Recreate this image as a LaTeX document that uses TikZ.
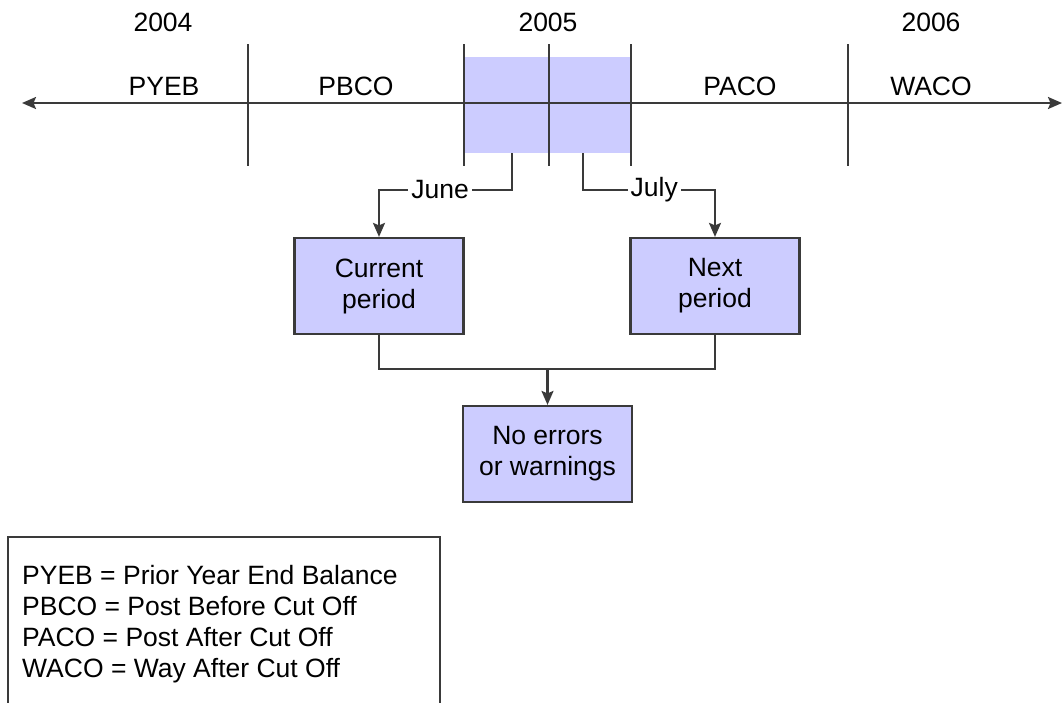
\documentclass[tikz,border=0pt]{standalone}
\usepackage{fontspec}
\setmainfont{Liberation Sans}
\usetikzlibrary{arrows.meta}
\definecolor{linegray}{HTML}{3A3A3A}
\definecolor{periodfill}{HTML}{CCCCFF}
\begin{document}
\begin{tikzpicture}[x=1pt,y=-1pt,
  every node/.style={font=\fontsize{26.5}{31}\selectfont},
  rule/.style={draw=linegray,line width=2.2pt},
  tip/.style={-{Stealth[length=14pt,width=12pt,inset=2.5pt]}},
  lbl/.style={inner sep=0pt,anchor=base},
  onwire/.style={fill=white,inner xsep=3pt,inner ysep=2pt},
  pbox/.style={draw=linegray,line width=2.2pt,fill=periodfill,minimum width=169pt,
    minimum height=96pt,align=center,inner sep=0pt}]
\useasboundingbox (0,0) rectangle (1063,702);

% cut-off period band
\fill[periodfill] (464,57) rectangle (632,153);

% time axis
\coordinate (axL) at (22,103);
\coordinate (axR) at (1062,103);
\draw[rule,{Stealth[length=14pt,width=12pt,inset=2.5pt]}-{Stealth[length=14pt,width=12pt,inset=2.5pt]}] (axL) -- (axR);

% period boundaries
\foreach \x in {248,464,549,631,848}
  \draw[rule] (\x,44) -- (\x,166);

% years
\node[lbl] (y2004) at (163,31) {2004};
\node[lbl] (y2005) at (548,31) {2005};
\node[lbl] (y2006) at (931,31) {2006};

% period codes
\node[lbl] (pyeb) at (164,95) {PYEB};
\node[lbl] (pbco) at (356,95) {PBCO};
\node[lbl] (paco) at (740,95) {PACO};
\node[lbl] (waco) at (931,95) {WACO};

% boxes
\node[pbox] (cur) at (379,286) {Current\\period};
\node[pbox] (nxt) at (715,286) {Next\\period};
\node[pbox] (ok) at (547.5,454) {No errors\\or warnings};

% month connectors
\coordinate (jun) at (512,153);
\coordinate (jul) at (583,153);
\draw[rule,tip] (jun) -- ++(0,37) -| node[pos=0.27,onwire] {June} (cur.north);
\draw[rule,tip] (jul) -- ++(0,37) -| node[pos=0.27,onwire] {July} (nxt.north);

% merge into result
\coordinate (mrg) at (547.5,368);
\draw[rule] (cur.south) -- ++(0,34) -| (nxt.south);
\draw[rule,tip] (mrg) -- (ok.north);

% legend
\draw[draw=linegray,line width=1.8pt] (8,537) rectangle (440,704);
\node[anchor=base west,inner sep=0pt,align=left] (legend) at (22,677)
  {PYEB = Prior Year End Balance\\PBCO = Post Before Cut Off\\PACO = Post After Cut Off\\WACO = Way After Cut Off};
\end{tikzpicture}
\end{document}
